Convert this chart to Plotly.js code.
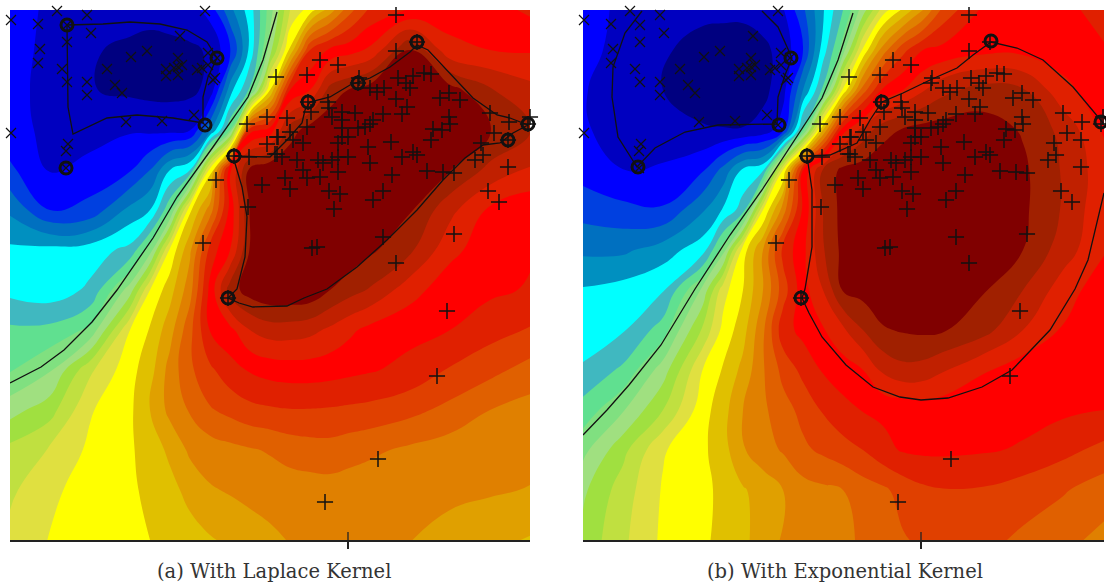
<!DOCTYPE html>
<html><head><meta charset="utf-8">
<script src="https://cdn.plot.ly/plotly-3.0.1.min.js"></script>
<style>html,body{margin:0;padding:0;background:#fff}</style></head>
<body><div id="chart" style="width:1106px;height:585px"></div>
<script>
const bandColors = ['#000080','#0000C0','#0000FF','#0040E0','#0070C0','#0090C0','#00FFFF','#40B8C0','#60E090','#80E080','#A0E080','#A0E040','#C0E040','#E0E040','#FFFF00','#E0C000','#E0A000','#E08000','#E06000','#E04000','#E02000','#FF0000','#E02000','#C02000','#A02000','#800000'];
const captionA = '(a) With Laplace Kernel';
const captionB = '(b) With Exponential Kernel';
const gridX = [10,50,90,130,150,170,190,210,230,250,270,290,310,330,350,370,410,450,490,531];
const gridY = [10,50,90,130,170,210,250,290,330,370,410,450,490,540];
const zLaplace = [
[2.5,1.8,1.5,1.4,1.3,1.4,1.6,2.4,4.7,6.5,9.5,13,14.5,16.5,18.7,20.2,21.1,21.5,21.4,20.8],
[2.3,1.8,1.1,.8,.7,.75,.85,1.1,2.8,6.3,10.5,15.2,20,21.2,21.6,22.2,25,22.3,22,21.9],
[2.2,1.8,1.05,.8,.7,.7,.75,1.3,5.5,8.2,15,21,22,24.4,25.1,25.5,25.9,25.4,24.1,23.3],
[2.3,1.8,1.5,1.9,1.8,1.7,1.95,4.8,9,20.6,21.4,24.5,25.5,25.8,25.9,25.9,25.9,25.8,25.1,24],
[3.2,1.95,2.4,2.9,4,6,7,14.4,21.8,25.3,25.9,25.9,25.9,25.9,25.9,25.9,25.9,25.05,23.7,22.9],
[4.8,3,3.3,5.3,6,8.8,14.8,17.5,21.3,25.1,25.9,25.9,25.9,25.9,25.9,25.9,25.1,23.3,21.8,21.2],
[6.2,6.3,6.5,7.3,9.5,14.2,16.8,20.4,22,25.1,25.9,25.9,25.9,25.9,25.7,25.2,24.2,22.3,21.4,21.1],
[6.7,6.4,7.2,10.5,14,15.6,17.6,21.3,24.5,25.5,25.9,25.9,25.8,25,24.4,23.9,22.4,21.4,21.2,20.9],
[8.2,8.3,9.2,14,15.1,16.6,18.7,21.05,21.7,23,23.5,23.5,23.3,22.8,22.2,21.7,21.3,21,20.4,19.9],
[8.9,9.9,12.8,14.65,15.6,17.4,18.8,19.8,20.6,21.1,21.4,21.5,21.5,21.4,21.25,21.1,20.7,19.9,19.3,18.6],
[10.6,11.6,13.9,14.8,16,17.3,18.1,18.9,19.3,19.7,19.85,19.95,19.95,19.9,19.8,19.7,19.3,18.7,18,17.6],
[12.3,13.1,14.2,14.85,15.5,16.2,17.2,17.5,17.7,17.9,18.1,18.4,18.55,18.6,18.4,18.2,17.8,17.5,17.4,17.3],
[12.8,13.8,14.4,14.85,15.2,15.7,16.3,16.9,17.1,17.3,17.4,17.5,17.55,17.6,17.5,17.4,17.25,17.2,17.12,16.95],
[13.3,14.05,14.5,14.75,15,15.3,15.6,15.9,16.2,16.5,16.8,17.05,17.25,17.4,17.4,17.3,17.02,16.7,16.3,15.9]];
const zExponential = [
[2.6,1.7,1.3,1.2,1.2,1.2,1.4,1.9,3.8,5.9,8,10.5,13.5,15.2,17,19.3,21.2,21.4,21.3,20.6],
[2.5,1.5,1.1,.7,.6,.6,.8,1.3,3,6.5,9.5,14.2,17.5,19.7,21,21.3,21.7,21.7,21.5,21.1],
[2.1,1.3,1,.5,.4,.4,.7,1.6,5,8.2,14.2,18.5,21.2,22,22.9,23.7,24.4,24.1,22.3,21.4],
[2.2,1.3,1.1,1.1,1.05,1.05,1.4,2.6,8.5,16,21.6,23.4,24.6,25.1,25.4,25.5,25.5,24.9,23.7,21.9],
[2.6,1.95,2.2,2.9,4.3,6.2,6.8,14,21,24.1,25.3,25.5,25.8,25.9,25.9,25.9,25.9,25.2,23.9,22.4],
[3.6,3.3,3.1,4.9,6.1,7.5,14,17.5,21.2,24,25.4,25.7,25.9,25.9,25.9,25.9,25.9,25.2,23.9,22.2],
[4.8,4.8,5.5,6.6,9.5,14.5,17,20.3,21.7,23.9,25.3,25.6,25.8,25.9,25.9,25.9,25.7,25,23.5,22.1],
[6.1,6.4,6.9,10.3,13.6,15,17,19.5,21.6,23,25.1,25.4,25.7,25.8,25.8,25.6,25.1,24,22.5,21.4],
[6.2,6.9,8.5,12.2,14.3,15.6,17.8,20.6,21.3,21.9,22.8,24,24.9,25.1,25.2,25.1,24.4,23,21.9,21.3],
[7.2,8.2,10.5,14.05,15.1,16.3,17.9,19.3,20.3,21.1,21.5,22,23.2,23.7,23.6,23.1,22.1,21.4,21.1,21.05],
[8.4,9.9,12,14.6,15.6,17,17.8,18.6,19.3,20.1,20.7,21.05,21.2,21.3,21.4,21.4,21.4,21.3,21.2,21],
[9.7,11.7,13.9,14.8,15.6,16.9,17.6,18.1,18.8,19.2,19.6,20,20.7,21.1,21.2,21.2,21.1,20.9,20.3,19.7],
[10.8,12.5,14.1,14.8,15.2,15.9,16.4,17,17.6,17.8,18,18.5,18.8,19.4,19.8,19.95,19.9,19.5,19.1,18.5],
[11.3,12.8,14.2,14.85,15.25,15.75,16.5,17.1,17.4,17.6,17.85,18.1,18.5,18.9,19.2,19.3,19.3,18.8,18.3,17.7]];

const crossX = [11,57,87,205,38,91,67,180,67,40,38,131,147,62,107,67,87,87,115,122,166,166,178,178,174,182,178,197,202,208,208,217,215,213,194,205,162,126,11,68,66,66];
const crossY = [20,11,15,11,24,33,25,36,42,49,63,57,51,69,69,82,82,95,85,93,69,76,58,67,68,65,75,70,68,65,53,58,78,80,115,125,121,122,133,144,151,168];
const plusX = [276,267,247,277,267,234,249,277,262,216,248,203,396,417,396,320,338,307,358,359,398,413,424,431,406,410,370,377,384,396,407,402,449,440,460,449,450,433,442,431,308,328,329,311,287,342,355,383,332,342,373,307,342,358,365,370,290,278,342,348,303,293,391,368,338,275,282,297,318,323,332,338,348,402,413,417,370,427,392,338,303,320,307,285,290,329,340,383,373,334,312,317,383,396,443,454,481,490,509,494,508,528,530,483,475,508,488,499,454,228,447,437,378,325];
const plusY = [77,117,124,137,144,156,157,154,185,180,207,243,15,42,51,60,65,75,83,78,78,76,73,74,83,88,88,92,88,99,107,114,93,98,100,117,124,129,130,140,102,102,108,112,118,112,113,114,117,120,120,127,128,128,127,124,132,137,137,137,143,140,142,147,143,154,157,160,160,163,160,157,157,157,152,155,163,171,175,172,170,177,178,178,189,191,194,191,200,209,248,247,237,263,172,173,143,113,122,133,140,124,117,155,160,167,191,202,234,298,311,376,459,502];
const svAX = [67,217,205,66,234,308,358,417,528,508,228];
const svAY = [25,58,125,168,156,102,83,42,124,140,298];
const svBX = [65,218,206,234,309,418,528,228];
const svBY = [167,58,125,156,102,41,122,298];

const zeroAX = [10,41,64,92,117,153,177,213,248,263,277];
const zeroAY = [383,367,350,322,290,238,197,147,97,60,12];
const marginPosAX = [234,270,287,302,305,310,330,350,370,390,410,417,428,447,473,497,510,528,513,500,483,465,443,417,387,357,327,304,287,253,239,228,237,245,247,242,234];
const marginPosAY = [156,157,140,123,110,102,97,85,78,67,52,45,50,70,98,115,118,125,133,143,145,158,180,210,240,267,289,298,306,307,303,298,289,257,217,187,160];
const marginNegAX = [67,103,130,160,187,207,217,208,203,203,173,137,107,73,68,67];
const marginNegAY = [25,24,22,24,30,42,58,77,97,123,118,115,118,134,107,25];
const zeroBX = [10,34,56,88,122,157,189,215,249,265,280];
const zeroBY = [435,410,385,345,289,235,190,150,98,60,13];
const marginPosBX = [234,257,284,297,309,330,357,384,400,418,444,470,500,524,531,null,531,525,515,502,477,439,409,375,348,327,300,273,249,236,229,232,239,239,235,234];
const marginPosBY = [156,155,143,120,102,93,80,68,55,42,48,60,87,115,124,null,193,217,260,289,330,370,387,398,400,397,387,365,337,313,298,289,247,190,160,156];
const marginNegBX = [69,52,40,39,45,64,82,112,145,204,205,212,219,205,189];
const marginNegBY = [11,33,67,97,137,167,148,132,125,124,97,75,58,27,11];

const colorscale = bandColors.map((c,i)=>[i/(bandColors.length-1),c]);
function field(z,xa,ya){
  return {type:'contour',x:gridX,y:gridY,z:z,xaxis:xa,yaxis:ya,autocontour:false,
    contours:{start:1,end:25,size:1,coloring:'fill',showlines:false},line:{width:0,smoothing:1.3},
    colorscale:colorscale,showscale:false,hoverinfo:'skip'};
}
function curve(x,y,xa,ya){
  return {type:'scatter',mode:'lines',x:x,y:y,xaxis:xa,yaxis:ya,line:{color:'#111',width:1.3},hoverinfo:'skip',showlegend:false};
}
function pts(x,y,sym,size,w,xa,ya){
  return {type:'scatter',mode:'markers',x:x,y:y,xaxis:xa,yaxis:ya,cliponaxis:false,hoverinfo:'skip',showlegend:false,
    marker:{symbol:sym,size:size,color:'#111',line:{color:'#111',width:w}}};
}
function panel(z,svX,svY,lines,xa,ya){
  return [field(z,xa,ya)].concat(lines.map(l=>curve(l[0],l[1],xa,ya)),[
    pts(crossX,crossY,'x-thin-open',10,1.2,xa,ya),
    pts(plusX,plusY,'cross-thin-open',11.5,1.5,xa,ya),
    pts(svX,svY,'circle-open',12,3,xa,ya)]);
}
const data = panel(zLaplace,svAX,svAY,[[zeroAX,zeroAY],[marginPosAX,marginPosAY],[marginNegAX,marginNegAY]],'x','y')
 .concat(panel(zExponential,svBX,svBY,[[zeroBX,zeroBY],[marginPosBX,marginPosBY],[marginNegBX,marginNegBY]],'x2','y2'));
const W=1106,H=585;
const xCommon={showgrid:false,zeroline:false,showticklabels:false,showline:true,linecolor:'#222',linewidth:1.5,ticks:'outside',ticklen:7,tickwidth:1.3,tickcolor:'#222',tickmode:'array',tickvals:[348],layer:'above traces'};
const yCommon={showgrid:false,zeroline:false,showticklabels:false,showline:false,ticks:'',range:[540,10]};
const layout={width:W,height:H,margin:{l:0,r:0,t:0,b:0},paper_bgcolor:'#fff',plot_bgcolor:'#fff',showlegend:false,
  xaxis:Object.assign({},xCommon,{domain:[10/W,530/W],range:[10,530],anchor:'y'}),
  yaxis:Object.assign({},yCommon,{domain:[1-540/H,1-10/H],anchor:'x'}),
  xaxis2:Object.assign({},xCommon,{domain:[583/W,1104/W],range:[10,531],anchor:'y2'}),
  yaxis2:Object.assign({},yCommon,{domain:[1-540/H,1-10/H],anchor:'x2'}),
  shapes:[{type:'line',xref:'x',yref:'y',x0:348,x1:348,y0:532,y1:540,line:{color:'#222',width:1.3}},
          {type:'line',xref:'x2',yref:'y2',x0:348,x1:348,y0:532,y1:540,line:{color:'#222',width:1.3}}],
  annotations:[
   {text:captionA,xref:'paper',yref:'paper',x:274/W,y:1-571/H,xanchor:'center',yanchor:'middle',showarrow:false,font:{family:'DejaVu Serif',size:19.5,color:'#333'}},
   {text:captionB,xref:'paper',yref:'paper',x:845/W,y:1-571/H,xanchor:'center',yanchor:'middle',showarrow:false,font:{family:'DejaVu Serif',size:19.5,color:'#333'}}]};
Plotly.newPlot('chart',data,layout,{displayModeBar:false,staticPlot:true});
</script></body></html>
